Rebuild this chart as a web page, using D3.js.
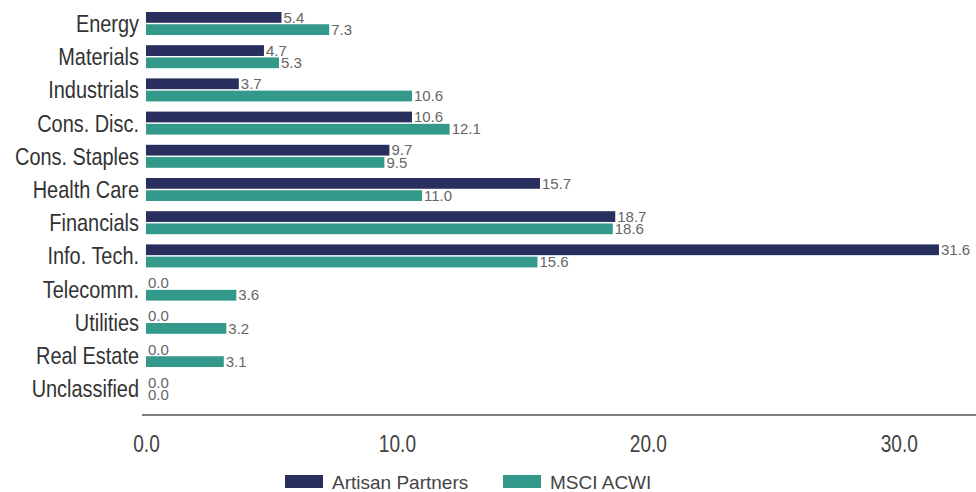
<!DOCTYPE html>
<html>
<head>
    <meta charset="utf-8">
    <script src="https://d3js.org/d3.v7.min.js"></script>
    <style>
        body {
            margin: 0;
            background: #ffffff;
        }
        svg text {
            font-family: 'Liberation Sans', Arial, sans-serif;
        }
        .cat-label { font-size: 24px; fill: #333; }
        .val-label { font-size: 15px; fill: #666; }
        .tick-label { font-size: 23px; fill: #444; }
        .legend-text { font-size: 19px; fill: #444; }
    </style>
</head>
<body>
    <div id="chart"></div>
    <script>
        // 数据
        const categories = ["Energy", "Materials", "Industrials", "Cons. Disc.", "Cons. Staples",
            "Health Care", "Financials", "Info. Tech.", "Telecomm.", "Utilities", "Real Estate", "Unclassified"];
        const artisanValues = [5.4, 4.7, 3.7, 10.6, 9.7, 15.7, 18.7, 31.6, 0.0, 0.0, 0.0, 0.0];
        const msciValues = [7.3, 5.3, 10.6, 12.1, 9.5, 11.0, 18.6, 15.6, 3.6, 3.2, 3.1, 0.0];
        const seriesNames = ["Artisan Partners", "MSCI ACWI"];
        const xTickValues = [0, 10, 20, 30];

        const width = 976, height = 492;
        const colors = { "Artisan Partners": "#282f5e", "MSCI ACWI": "#339a8b" };
        const narrow = "scale(0.83,1)";   // 模拟窄体字

        const svg = d3.select("#chart")
            .append("svg")
            .attr("width", width)
            .attr("height", height);

        // 比例尺
        const x = d3.scaleLinear()
            .domain([0, 32])
            .range([146, 949]);

        const y = d3.scaleBand()
            .domain(categories)
            .range([12, 400.2])
            .paddingInner(0.307)
            .paddingOuter(0);

        const ySub = d3.scaleBand()
            .domain(seriesNames)
            .range([0, y.bandwidth()])
            .paddingInner(0.12);

        const rows = categories.map((c, i) => ({
            cat: c,
            values: [
                { series: seriesNames[0], value: artisanValues[i] },
                { series: seriesNames[1], value: msciValues[i] }
            ]
        }));

        // 分类标签
        svg.append("g")
            .selectAll("text")
            .data(categories)
            .join("text")
            .attr("class", "cat-label")
            .attr("transform", d => `translate(139,${y(d) + y.bandwidth() / 2}) ${narrow}`)
            .attr("dy", "0.35em")
            .attr("text-anchor", "end")
            .text(d => d);

        // 柱子
        const groups = svg.append("g")
            .selectAll("g")
            .data(rows)
            .join("g")
            .attr("transform", d => `translate(0,${y(d.cat)})`);

        groups.selectAll("rect")
            .data(d => d.values)
            .join("rect")
            .attr("x", x(0))
            .attr("y", d => ySub(d.series))
            .attr("width", d => x(d.value) - x(0))
            .attr("height", ySub.bandwidth())
            .attr("fill", d => colors[d.series]);

        groups.selectAll("text")
            .data(d => d.values)
            .join("text")
            .attr("class", "val-label")
            .attr("x", d => x(d.value) + 2)
            .attr("y", d => ySub(d.series) + ySub.bandwidth() / 2)
            .attr("dy", "0.35em")
            .text(d => d3.format(".1f")(d.value));

        // x 轴
        const axis = svg.append("g")
            .attr("transform", "translate(0,415)")
            .call(d3.axisBottom(x).tickValues(xTickValues).tickFormat(d3.format(".1f")).tickSize(0).tickPadding(21));
        axis.select(".domain").remove();
        axis.attr("font-family", null).attr("font-size", null);
        axis.selectAll("text")
            .attr("class", "tick-label")
            .attr("fill", null)
            .attr("transform", narrow);

        svg.append("line")
            .attr("x1", 142).attr("x2", width)
            .attr("y1", 415).attr("y2", 415)
            .attr("stroke", "#555")
            .attr("stroke-width", 1.5);

        // 图例
        const legendPos = [285, 503];
        const legend = svg.append("g")
            .selectAll("g")
            .data(seriesNames)
            .join("g")
            .attr("transform", (d, i) => `translate(${legendPos[i]},475)`);

        legend.append("rect")
            .attr("width", 38)
            .attr("height", 13)
            .attr("fill", d => colors[d]);

        legend.append("text")
            .attr("class", "legend-text")
            .attr("x", 47)
            .attr("y", 7)
            .attr("dy", "0.35em")
            .text(d => d);
    </script>
</body>
</html>
